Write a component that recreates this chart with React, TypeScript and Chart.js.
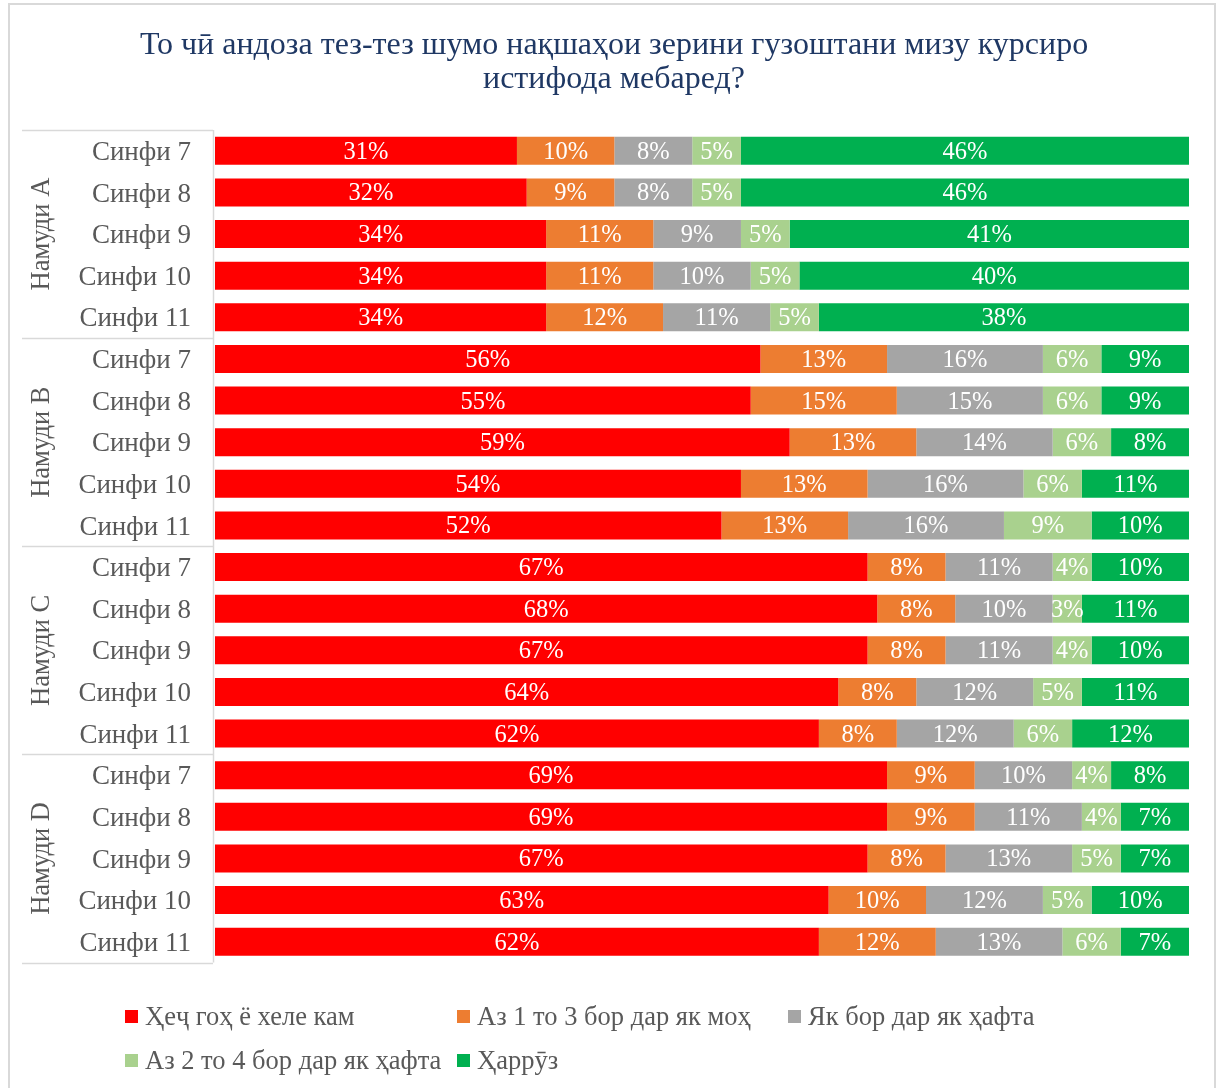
import React, { useEffect, useRef } from "react";
import { Chart, registerables } from "chart.js";

Chart.register(...registerables);

const titleLines = [
  "То чӣ андоза тез-тез шумо нақшаҳои зерини гузоштани мизу курсиро",
  "истифода мебаред?",
];
const groups = ["Намуди A", "Намуди B", "Намуди C", "Намуди D"];
const grades = ["Синфи 7", "Синфи 8", "Синфи 9", "Синфи 10", "Синфи 11"];
const seriesNames = [
  "Ҳеҷ гоҳ ё хеле кам",
  "Аз 1 то 3 бор дар як моҳ",
  "Як бор дар як ҳафта",
  "Аз 2 то 4 бор дар як ҳафта",
  "Ҳаррӯз",
];
const seriesColors = ["#FF0000", "#ED7D31", "#A5A5A5", "#A9D18E", "#00B050"];

const never = [31, 32, 34, 34, 34, 56, 55, 59, 54, 52, 67, 68, 67, 64, 62, 69, 69, 67, 63, 62];
const monthly = [10, 9, 11, 11, 12, 13, 15, 13, 13, 13, 8, 8, 8, 8, 8, 9, 9, 8, 10, 12];
const weekly = [8, 8, 9, 10, 11, 16, 15, 14, 16, 16, 11, 10, 11, 12, 12, 10, 11, 13, 12, 13];
const twoToFour = [5, 5, 5, 5, 5, 6, 6, 6, 6, 9, 4, 3, 4, 5, 6, 4, 4, 5, 5, 6];
const daily = [46, 46, 41, 40, 38, 9, 9, 8, 11, 10, 10, 11, 10, 11, 12, 8, 7, 7, 10, 7];

const seriesValues = [never, monthly, weekly, twoToFour, daily];

const FONT = '"Liberation Serif", "Times New Roman", serif';
const TEXT_GREY = "#595959";
const LINE_GREY = "#D9D9D9";

export default function App() {
  const canvasRef = useRef<HTMLCanvasElement | null>(null);

  useEffect(() => {
    const canvas = canvasRef.current;
    if (!canvas) return;

    const labels = groups.flatMap(() => grades);

    const decorPlugin = {
      id: "decor",
      afterDraw(chart: any) {
        const { ctx, chartArea } = chart;
        const yScale = chart.scales.y;
        ctx.save();

        // Title
        ctx.fillStyle = "#1F3864";
        ctx.font = `32px ${FONT}`;
        ctx.textAlign = "center";
        ctx.textBaseline = "alphabetic";
        ctx.fillText(titleLines[0], 614, 54);
        ctx.fillText(titleLines[1], 614, 88);

        // Group lines
        const n = labels.length;
        const rowH = (chartArea.bottom - chartArea.top) / n;
        ctx.strokeStyle = LINE_GREY;
        ctx.lineWidth = 1.5;
        for (let g = 0; g <= groups.length; g++) {
          const y = Math.round(chartArea.top + g * 5 * rowH) + 0.5;
          ctx.beginPath();
          ctx.moveTo(22, y);
          ctx.lineTo(213, y);
          ctx.stroke();
        }
        ctx.beginPath();
        ctx.moveTo(213.5, chartArea.top);
        ctx.lineTo(213.5, chartArea.bottom);
        ctx.stroke();

        // Group labels
        ctx.fillStyle = TEXT_GREY;
        ctx.font = `26.5px ${FONT}`;
        ctx.textAlign = "center";
        ctx.textBaseline = "middle";
        groups.forEach((g, i) => {
          const y0 = yScale.getPixelForValue(i * 5);
          const y1 = yScale.getPixelForValue(i * 5 + 4);
          const cy = (y0 + y1) / 2;
          ctx.save();
          ctx.translate(42, cy);
          ctx.rotate(-Math.PI / 2);
          ctx.fillText(g, 0, 0);
          ctx.restore();
        });

        // Legend
        const legendPos = [
          { x: 125, y: 1017 },
          { x: 457, y: 1017 },
          { x: 788, y: 1017 },
          { x: 125, y: 1061 },
          { x: 457, y: 1061 },
        ];
        ctx.font = `26.5px ${FONT}`;
        ctx.textAlign = "left";
        ctx.textBaseline = "middle";
        seriesNames.forEach((name, i) => {
          const p = legendPos[i];
          ctx.fillStyle = seriesColors[i];
          ctx.fillRect(p.x, p.y - 7, 13, 13);
          ctx.fillStyle = TEXT_GREY;
          ctx.fillText(name, p.x + 20, p.y + 1);
        });

        ctx.restore();
      },
    };

    const valueLabelPlugin = {
      id: "valueLabels",
      afterDatasetsDraw(chart: any) {
        const { ctx } = chart;
        ctx.save();
        ctx.fillStyle = "#FFFFFF";
        ctx.font = `24.5px ${FONT}`;
        ctx.textAlign = "center";
        ctx.textBaseline = "middle";
        chart.data.datasets.forEach((ds: any, di: number) => {
          const meta = chart.getDatasetMeta(di);
          meta.data.forEach((el: any, i: number) => {
            const { x, y, base } = el.getProps(["x", "y", "base"], true);
            const v = ds.data[i];
            if (!v) return;
            ctx.fillText(`${v}%`, (x + base) / 2, y + 1.5);
          });
        });
        ctx.restore();
      },
    };

    const chart = new Chart(canvas, {
      type: "bar",
      data: {
        labels,
        datasets: seriesValues.map((vals, i) => ({
          label: seriesNames[i],
          data: vals,
          backgroundColor: seriesColors[i],
          borderWidth: 0,
          barPercentage: 0.67,
          categoryPercentage: 1,
        })),
      },
      options: {
        indexAxis: "y",
        responsive: false,
        animation: false,
        devicePixelRatio: 1,
        layout: { padding: { top: 130, bottom: 125.5, left: 0, right: 32 } },
        plugins: {
          legend: { display: false },
          title: { display: false },
          tooltip: { enabled: false },
        },
        scales: {
          x: {
            stacked: true,
            display: false,
            min: 0,
            max: 100,
          },
          y: {
            stacked: true,
            grid: { display: false, drawTicks: false },
            border: { display: false },
            ticks: {
              autoSkip: false,
              color: TEXT_GREY,
              font: { family: FONT, size: 27 },
              padding: 24,
              labelOffset: 2,
            },
            afterFit: (scale: any) => {
              scale.width = 215;
            },
          },
        },
      },
      plugins: [decorPlugin, valueLabelPlugin],
    } as any);

    return () => chart.destroy();
  }, []);

  return (
    <div
      style={{
        position: "fixed",
        left: 0,
        top: 0,
        width: 1221,
        height: 1088,
        background: "#FFFFFF",
        overflow: "hidden",
      }}
    >
      <div
        style={{
          position: "absolute",
          left: 8,
          top: 3,
          width: 1208,
          height: 1120,
          border: `2px solid ${LINE_GREY}`,
          boxSizing: "border-box",
        }}
      />
      <canvas
        ref={canvasRef}
        width={1221}
        height={1088}
        style={{ position: "absolute", left: 0, top: 0, width: 1221, height: 1088 }}
      />
    </div>
  );
}
